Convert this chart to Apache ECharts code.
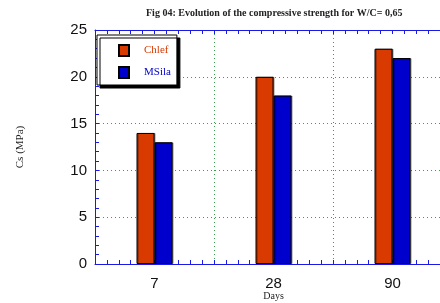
<!DOCTYPE html>
<html>
<head>
<meta charset="utf-8">
<script src="https://cdn.jsdelivr.net/npm/echarts@6/dist/echarts.min.js"></script>
<style>
  html, body { margin: 0; padding: 0; background: #fff; }
  #chart { width: 440px; height: 303px; }
</style>
</head>
<body>
<div id="chart"></div>
<script>
const days = ['7', '28', '90']
const chlef = [14, 20, 23]
const msila = [13, 18, 22]

const axisBlue = '#1a1ae6'
const gridGreen = '#3f9a50'

const chart = echarts.init(document.getElementById('chart'))

const tickAxis = (position) => ({
  type: 'value',
  position,
  min: 0,
  max: 3,
  interval: 1,
  axisLine: { show: true, onZero: false, lineStyle: { color: axisBlue, width: 1 } },
  axisTick: { show: true, inside: true, length: 4, lineStyle: { color: axisBlue } },
  minorTick: { show: true, splitNumber: 10, length: 4, lineStyle: { color: axisBlue } },
  axisLabel: { show: false },
  splitLine: { show: false },
})

chart.setOption({
  backgroundColor: '#fff',
  animation: false,
  title: {
    text: 'Fig 04: Evolution of the compressive strength for W/C= 0,65',
    left: 146,
    top: 8,
    padding: 0,
    textStyle: {
      fontFamily: 'Liberation Serif',
      fontWeight: 'bold',
      fontSize: 10,
      color: '#222',
    },
  },
  legend: {
    orient: 'vertical',
    left: 97,
    top: 35,
    padding: [9, 6, 6, 21],
    itemWidth: 10,
    itemHeight: 11,
    itemGap: 9,
    backgroundColor: '#fff',
    borderColor: '#000',
    borderWidth: 1,
    shadowColor: '#000',
    shadowOffsetX: 3,
    shadowOffsetY: 3,
    shadowBlur: 0,
    icon: 'rect',
    data: [
      { name: 'Chlef', textStyle: { color: '#d83a00' } },
      { name: 'MSila', textStyle: { color: '#0000cc' } },
    ],
    textStyle: {
      fontFamily: 'Liberation Serif',
      fontSize: 11,
      padding: [0, 0, 0, 10],
    },
  },
  grid: { left: 95, top: 30, width: 357, height: 234, outerBoundsMode: 'none' },
  xAxis: [
    {
      type: 'category',
      data: days,
      boundaryGap: true,
      name: 'Days',
      nameLocation: 'middle',
      nameGap: 27,
      nameMoveOverlap: false,
      nameTextStyle: { fontFamily: 'Liberation Serif', fontSize: 10, color: '#222' },
      axisLine: { show: false },
      axisTick: { show: false },
      axisLabel: { color: '#111', fontFamily: 'Liberation Sans', fontSize: 15, margin: 12 },
      splitLine: { show: true, lineStyle: { color: gridGreen, type: [1, 3], width: 1 } },
    },
    tickAxis('bottom'),
    tickAxis('top'),
  ],
  yAxis: {
    type: 'value',
    min: 0,
    max: 25,
    interval: 5,
    name: 'Cs (MPa)',
    nameLocation: 'middle',
    nameGap: 69,
    nameMoveOverlap: false,
    nameTextStyle: { fontFamily: 'Liberation Serif', fontSize: 11, color: '#222' },
    axisLine: { show: true, lineStyle: { color: axisBlue, width: 1 } },
    axisTick: { show: true, inside: true, length: 4, lineStyle: { color: axisBlue } },
    minorTick: { show: true, splitNumber: 5, length: 4, lineStyle: { color: axisBlue } },
    axisLabel: { color: '#111', fontFamily: 'Liberation Sans', fontSize: 15, margin: 8 },
    splitLine: { show: true, lineStyle: { color: gridGreen, type: [1, 3], width: 1 } },
  },
  series: [
    {
      name: 'Chlef',
      type: 'bar',
      data: chlef,
      barWidth: 18,
      barGap: '0%',
      itemStyle: {
        color: '#d83a00',
        borderColor: '#000',
        borderWidth: 1,
        shadowColor: 'rgba(0,0,0,0.45)',
        shadowOffsetX: 1,
        shadowBlur: 0,
      },
    },
    {
      name: 'MSila',
      type: 'bar',
      data: msila,
      barWidth: 18,
      barGap: '0%',
      itemStyle: {
        color: '#0000cc',
        borderColor: '#000',
        borderWidth: 1,
        shadowColor: 'rgba(0,0,0,0.45)',
        shadowOffsetX: 1,
        shadowBlur: 0,
      },
    },
  ],
})
</script>
</body>
</html>
